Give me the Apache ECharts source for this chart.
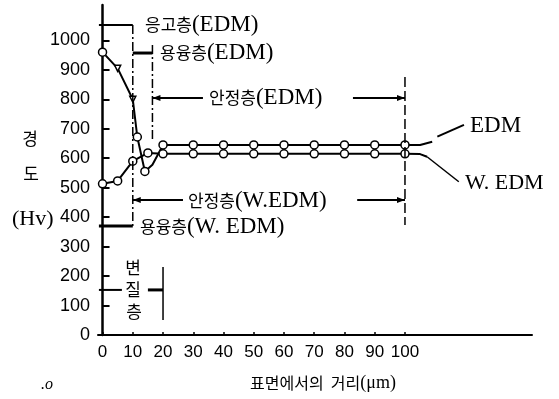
<!DOCTYPE html>
<html><head><meta charset="utf-8">
<script src="https://cdn.jsdelivr.net/npm/echarts@6/dist/echarts.min.js"></script>
<style>html,body{margin:0;padding:0;background:#fff}#c{width:559px;height:399px}</style>
</head><body><div id="c"></div>
<script>
// ---- data ----
const xTicks = [0, 10, 20, 30, 40, 50, 60, 70, 80, 90, 100];
const yTicks = [0, 100, 200, 300, 400, 500, 600, 700, 800, 900, 1000];
const edmX = [0, 5, 10, 11.5, 14, 16.5, 20, 30, 40, 50, 60, 70, 80, 90, 100, 105, 109];
const edmY = [960, 905, 800, 672, 555, 578, 645, 645, 645, 645, 645, 645, 645, 645, 645, 645, 656];
const edmMark = ['o','t','t','o','o','-','o','o','o','o','o','o','o','o','o','-','-'];
const wedmX = [0, 5, 10, 15, 20, 30, 40, 50, 60, 70, 80, 90, 100, 105, 107.3];
const wedmY = [513, 523, 590, 618, 615, 615, 615, 615, 615, 615, 615, 615, 615, 614, 605];
const wedmMark = ['o','o','o','o','o','o','o','o','o','o','o','o','o','-','-'];

const KR = 'Noto Sans CJK KR';
const SERIF = 'Liberation Serif';

function pts(xs, ys, marks) {
  return xs.map((x, i) => {
    const m = marks[i];
    const d = { value: [x, ys[i]] };
    if (m === '-') d.symbol = 'none';
    else if (m === 't') { d.symbol = 'triangle'; d.symbolSize = 6; d.symbolRotate = 180; }
    else d.symbol = 'circle';
    return d;
  });
}

const chart = echarts.init(document.getElementById('c'), null, { renderer: 'canvas' });
const lineStyle = { color: '#000', width: 2 };
const itemStyle = { color: '#fff', borderColor: '#000', borderWidth: 1.5 };
chart.setOption({
  animation: false,
  backgroundColor: '#fff',
  grid: { left: 98, right: 27, top: 5, bottom: 64 },
  xAxis: {
    type: 'value', min: -1.5, max: 142,
    axisLine: { lineStyle: { color: '#000', width: 2 } },
    axisTick: { customValues: xTicks, inside: true, length: 3, lineStyle: { color: '#000', width: 1.5 } },
    axisLabel: { customValues: xTicks, color: '#000', fontSize: 17, fontFamily: 'Liberation Sans', margin: 9, formatter: v => String(v) },
    splitLine: { show: false }
  },
  yAxis: {
    type: 'value', min: 0, max: 1120,
    axisLine: { show: true, lineStyle: { color: '#000', width: 2.5 } },
    axisTick: { customValues: yTicks, inside: true, length: 7, lineStyle: { color: '#000', width: 2 } },
    axisLabel: { customValues: yTicks, color: '#000', fontSize: 18, fontFamily: 'Liberation Sans', margin: 8, formatter: v => String(v) },
    splitLine: { show: false }
  },
  series: [
    { name: 'EDM', type: 'line', data: pts(edmX, edmY, edmMark), symbolSize: 8, lineStyle, itemStyle, z: 3 },
    { name: 'W. EDM', type: 'line', data: pts(wedmX, wedmY, wedmMark), symbolSize: 8, lineStyle, itemStyle, z: 3 }
  ]
});

// ---- annotations (data coordinates) ----
const DASHDOT = [9, 3, 2, 3];
const segs = [
  { p: [[-1.2, 1052], [10, 1052]], w: 2 },
  { p: [[10, 1052], [10, 370]], w: 1.5, dash: DASHDOT },
  { p: [[10, 957], [16.5, 957]], w: 3 },
  { p: [[16.5, 984], [16.5, 661]], w: 1.5, dash: DASHDOT },
  { p: [[16.5, 804], [33.2, 804]], w: 2, arrow: 'start' },
  { p: [[82.8, 804], [100, 804]], w: 2, arrow: 'end' },
  { p: [[100, 876], [100, 373]], w: 1.5, dash: [10, 4] },
  { p: [[10, 458], [26.6, 458]], w: 2, arrow: 'start' },
  { p: [[84.2, 458], [100, 458]], w: 2, arrow: 'end' },
  { p: [[-1.2, 370], [10, 370]], w: 3 },
  { p: [[-1.2, 153], [6.4, 153]], w: 2 },
  { p: [[15, 153], [20, 153]], w: 3 },
  { p: [[20, 231], [20, 51]], w: 1.5 },
  { p: [[110.7, 673], [119.5, 713]], w: 2 },
  { p: [[107.3, 605], [117.8, 520]], w: 1.5 }
];
const g = [];
segs.forEach(s => {
  const a = chart.convertToPixel({ gridIndex: 0 }, s.p[0]);
  const b = chart.convertToPixel({ gridIndex: 0 }, s.p[1]);
  g.push({ type: 'line', shape: { x1: a[0], y1: a[1], x2: b[0], y2: b[1] },
    style: { stroke: '#000', lineWidth: s.w, lineDash: s.dash || null }, z: 5 });
  if (s.arrow) {
    const t = s.arrow === 'start' ? a : b;
    const dir = s.arrow === 'start' ? 1 : -1;
    g.push({ type: 'polygon', shape: { points: [[t[0], t[1]], [t[0] + dir * 8, t[1] - 3], [t[0] + dir * 8, t[1] + 3]] },
      style: { fill: '#000' }, z: 5 });
  }
});

function lab(x, y, parts, align, ls) {
  let text = '', rich = {};
  parts.forEach((p, i) => {
    const k = 'p' + i;
    text += '{' + k + '|' + p[0] + '}';
    rich[k] = { fontFamily: p[1] === 'k' ? KR : SERIF, fontSize: p[1] === 'k' ? 17 : (ls || 23), fill: '#000', color: '#000' };
  });
  g.push({ type: 'text', x, y, z: 6, style: { text, rich, align: align || 'left', verticalAlign: 'middle' } });
}
lab(145, 25, [['응고층', 'k'], ['(EDM)', 's']]);
lab(160, 53, [['용융층', 'k'], ['(EDM)', 's']]);
lab(209, 98, [['안정층', 'k'], ['(EDM)', 's']]);
lab(188, 201, [['안정층', 'k'], ['(W.EDM)', 's']]);
lab(140, 227, [['용융층', 'k'], ['(W. EDM)', 's']]);
lab(470, 126, [['EDM', 's']]);
lab(465, 183, [['W. EDM', 's']], 'left', 22);
lab(30, 139, [['경', 'k']], 'center');
lab(31, 174, [['도', 'k']], 'center');
lab(12, 219, [['(Hv)', 's']], 'left', 22);
lab(133, 268, [['변', 'k']], 'center');
lab(133, 290, [['질', 'k']], 'center');
lab(134, 312, [['층', 'k']], 'center');
g.push({ type: 'text', x: 323, y: 383, z: 6, style: {
  text: '{a|표면에서의  거리}{b|(μm)}', align: 'center', verticalAlign: 'middle',
  rich: { a: { fontFamily: KR, fontSize: 16, color: '#000' }, b: { fontFamily: SERIF, fontSize: 18, color: '#000' } } } });
g.push({ type: 'text', x: 47, y: 385, z: 6, style: { text: '.o', fontFamily: SERIF, fontStyle: 'italic', fontSize: 16, fill: '#000', align: 'center', verticalAlign: 'middle' } });
chart.setOption({ graphic: g });
</script>
</body></html>
